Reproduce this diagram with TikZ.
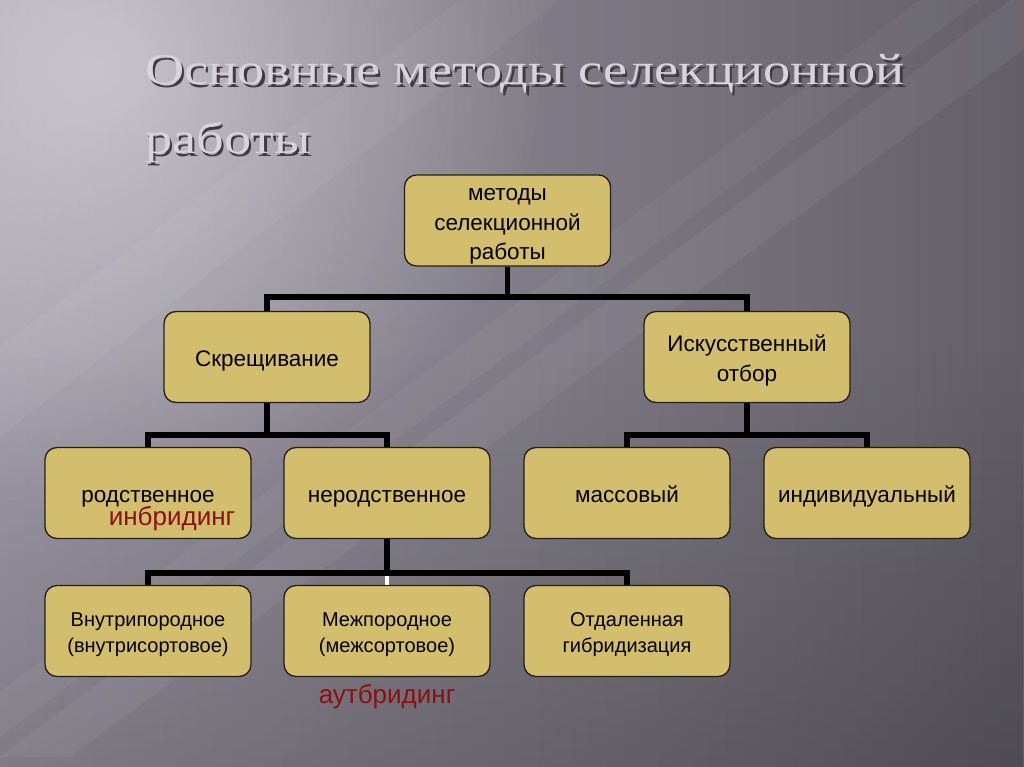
\documentclass[tikz,border=0pt]{standalone}
\usepackage{graphicx}
\usepackage{fontspec}
\setmainfont{Liberation Sans}
\newfontfamily\titlefont{Liberation Serif}
\usetikzlibrary{
  fadings,
  positioning
}

\definecolor{bgleft}{RGB}{160,155,168}
\definecolor{bgright}{RGB}{98,95,104}
\definecolor{boxfill}{RGB}{211,190,110}
\definecolor{boxline}{RGB}{36,30,22}
\definecolor{darkred}{RGB}{140,16,18}
\definecolor{silver}{RGB}{214,212,220}
\definecolor{shadowgray}{RGB}{62,60,66}

\newcommand{\boxstrut}{\rule[-0.15\baselineskip]{0pt}{\baselineskip}}
\newcommand{\embossed}[1]{\makebox[0pt][l]{\hspace{2.5pt}\raisebox{-2.5pt}{\textcolor{shadowgray}{\scalebox{1.235}[1]{#1}}}}\textcolor{silver}{\scalebox{1.235}[1]{#1}}}

\tikzfading[name=glow, inner color=transparent!0, outer color=transparent!100]

\tikzset{
  box/.style={draw=boxline, line width=1.3pt, fill=boxfill, rounded corners=12pt,
    minimum width=206pt, minimum height=91pt, inner sep=2pt, align=center,
    font=\fontsize{22.5}{28}\selectfont},
  smallbox/.style={box, font=\fontsize{20}{25}\selectfont},
  bus/.style={line width=5.5pt, line join=miter, black},
  note/.style={text=darkred, inner sep=0pt, font=\fontsize{26}{30}\selectfont},
  heading/.style={inner sep=0pt, anchor=base west, font=\titlefont\fontsize{44}{50}\selectfont}
}

\begin{document}
\begin{tikzpicture}[x=1pt,y=1pt]
    %background
    \useasboundingbox (0,0) rectangle (1024,767);
    \begin{scope}
      \clip (0,0) rectangle (1024,767);
      \shade[left color=bgleft, right color=bgright] (0,0) rectangle (1024,767);
      \fill[white, fill opacity=0.45, path fading=glow] (-350,250) rectangle (550,1150);
      \fill[black, fill opacity=0.2, path fading=north] (0,0) rectangle (1024,420);
      \fill[white, fill opacity=0.04] (0,420) -- (460,767) -- (560,767) -- (0,330) -- cycle;
      \fill[white, fill opacity=0.05] (0,10) -- (1010,767) -- (1090,767) -- (70,10) -- cycle;
      \fill[white, fill opacity=0.04] (-100,0) -- (920,767) -- (980,767) -- (-40,0) -- cycle;
    \end{scope}
    %title
    \node[heading] (t1) at (145,682) {\embossed{Основные методы селекционной}};
    \node[heading] (t2) at (145,613) {\embossed{работы}};
    %boxes
    \node[box] (top) at (507.5,546.5) {\boxstrut методы\\\boxstrut селекционной\\\boxstrut работы};
    \node[box] (skr) at (267,410) {\boxstrut Скрещивание};
    \node[box] (isk) at (747,410) {\boxstrut Искусственный\\\boxstrut отбор};
    \node[box] (rod) at (148,274) {\boxstrut родственное};
    \node[box] (nerod) at (387,274) {\boxstrut неродственное};
    \node[box] (mass) at (627,274) {\boxstrut массовый};
    \node[box] (ind) at (867,274) {\boxstrut индивидуальный};
    \node[smallbox] (vnutr) at (148,136) {\boxstrut Внутрипородное\\\boxstrut (внутрисортовое)};
    \node[smallbox] (mezh) at (387,136) {\boxstrut Межпородное\\\boxstrut (межсортовое)};
    \node[smallbox] (otdal) at (627,136) {\boxstrut Отдаленная\\\boxstrut гибридизация};
    \node[note] (inbr) at (172,248) {инбридинг};
    \node[note] (autbr) at (387,70) {аутбридинг};
    %connectors
    \coordinate (j1) at (507.5,470);
    \coordinate (j2) at (267,332);
    \coordinate (j3) at (747,332);
    \coordinate (j4) at (387,194);
    \draw[line width=4pt, white] (j4) -- (mezh.north);
    \draw[bus] (top.south) -- (j1);
    \draw[bus] (skr.north) |- (j1) -| (isk.north);
    \draw[bus] (skr.south) -- (j2);
    \draw[bus] (rod.north) |- (j2) -| (nerod.north);
    \draw[bus] (isk.south) -- (j3);
    \draw[bus] (mass.north) |- (j3) -| (ind.north);
    \draw[bus] (nerod.south) -- (j4);
    \draw[bus] (vnutr.north) |- (j4) -| (otdal.north);
\end{tikzpicture}
\end{document}
